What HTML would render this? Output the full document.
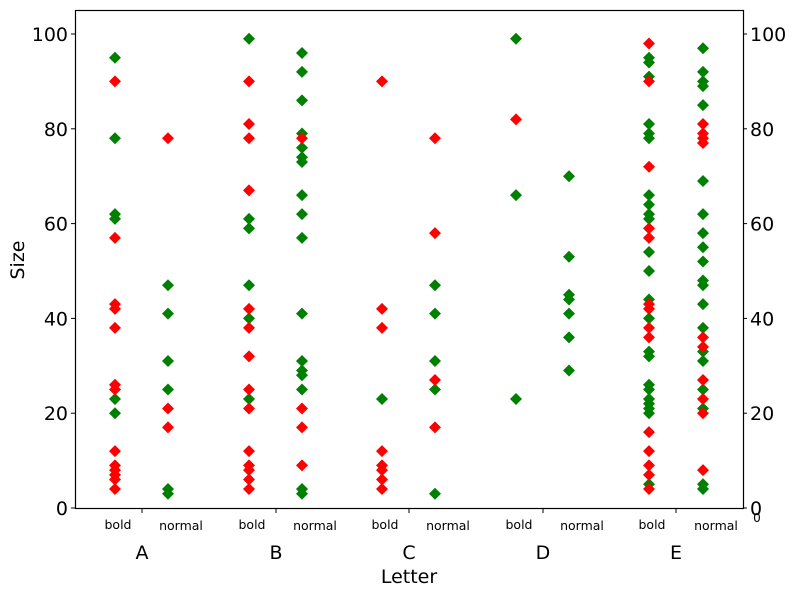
<!DOCTYPE html>
<html><head><meta charset="utf-8"><style>
body{margin:0;background:#fff}
svg{font-family:"DejaVu Sans","Liberation Sans",sans-serif}
</style></head><body>
<svg id="s" width="799" height="599" viewBox="0 0 799 599" xmlns="http://www.w3.org/2000/svg">
<rect x="0" y="0" width="799" height="599" fill="#fff"/>
<g id="pts"></g>
<rect x="75.5" y="10.5" width="668" height="498" fill="none" stroke="#000" stroke-width="1.2"/>
<g id="ax" font-size="19" fill="#000"></g>
<text x="409" y="583" font-size="19" text-anchor="middle">Letter</text>
<text transform="translate(24,260) rotate(-90)" font-size="19" text-anchor="middle">Size</text>
</svg>
<script>
var NS="http://www.w3.org/2000/svg";
function y(v){return 508-v*4.74;}
var cols={A:[115,168],B:[249,302],C:[382,435],D:[516,569],E:[649,703]};
var d={
A:[[[95,78,62,61,23,20],[90,57,43,42,38,26,25,12,9,8,7,6,4]],[[47,41,31,25,4,3],[78,21,17]]],
B:[[[99,61,59,47,40,23],[90,81,78,67,42,38,32,25,21,12,9,8,6,4]],[[96,92,86,79,76,74,73,66,62,57,41,31,29,28,25,4,3],[78,21,17,9]]],
C:[[[23],[90,42,38,12,9,8,6,4]],[[47,41,31,25,3],[78,58,27,17]]],
D:[[[99,66,23],[82]],[[70,53,45,44,41,36,29],[]]],
E:[[[95,94,91,81,79,78,66,64,62,61,54,50,44,40,33,32,26,25,23,22,21,20,5],[98,90,72,59,57,43,42,38,36,16,12,9,7,4]],
   [[97,92,90,89,85,69,62,58,55,52,48,47,43,38,33,31,25,21,5,4],[81,79,78,77,36,34,27,23,20,8]]]};
var g=document.getElementById('pts');
function dia(cx,cy,c){var p=document.createElementNS(NS,'polygon');var r=6;
p.setAttribute('points',(cx)+','+(cy-r)+' '+(cx+r)+','+cy+' '+cx+','+(cy+r)+' '+(cx-r)+','+cy);p.setAttribute('fill',c);g.appendChild(p);}
for(var k in d){for(var i=0;i<2;i++){var x=cols[k][i];
d[k][i][0].forEach(function(v){dia(x,y(v),'#008000');});
d[k][i][1].forEach(function(v){dia(x,y(v),'#ff0000');});}}
var ax=document.getElementById('ax');
function t(x,yy,s,sz,anc){var e=document.createElementNS(NS,'text');e.setAttribute('x',x);e.setAttribute('y',yy);e.setAttribute('font-size',sz);e.setAttribute('text-anchor',anc);e.textContent=s;ax.appendChild(e);}
function ln(x1,y1,x2,y2){var e=document.createElementNS(NS,'line');e.setAttribute('x1',x1);e.setAttribute('y1',y1);e.setAttribute('x2',x2);e.setAttribute('y2',y2);e.setAttribute('stroke','#000');ax.appendChild(e);}
for(var v=0;v<=100;v+=20){var yy=y(v);ln(71,yy,75,yy);ln(743,yy,747,yy);t(68,yy+7,v,19,'end');t(750,yy+7,v,19,'start');}
t(757,522,'0',12,'middle');
var cx={A:142,B:276,C:409,D:543,E:676};
for(var k in cx){ln(cx[k],508,cx[k],513);t(cx[k],559,k,19,'middle');
t(cols[k][0]+3,529,'bold',12.5,'middle');t(cols[k][1]+13,530,'normal',12.5,'middle');}
</script>
</body></html>
